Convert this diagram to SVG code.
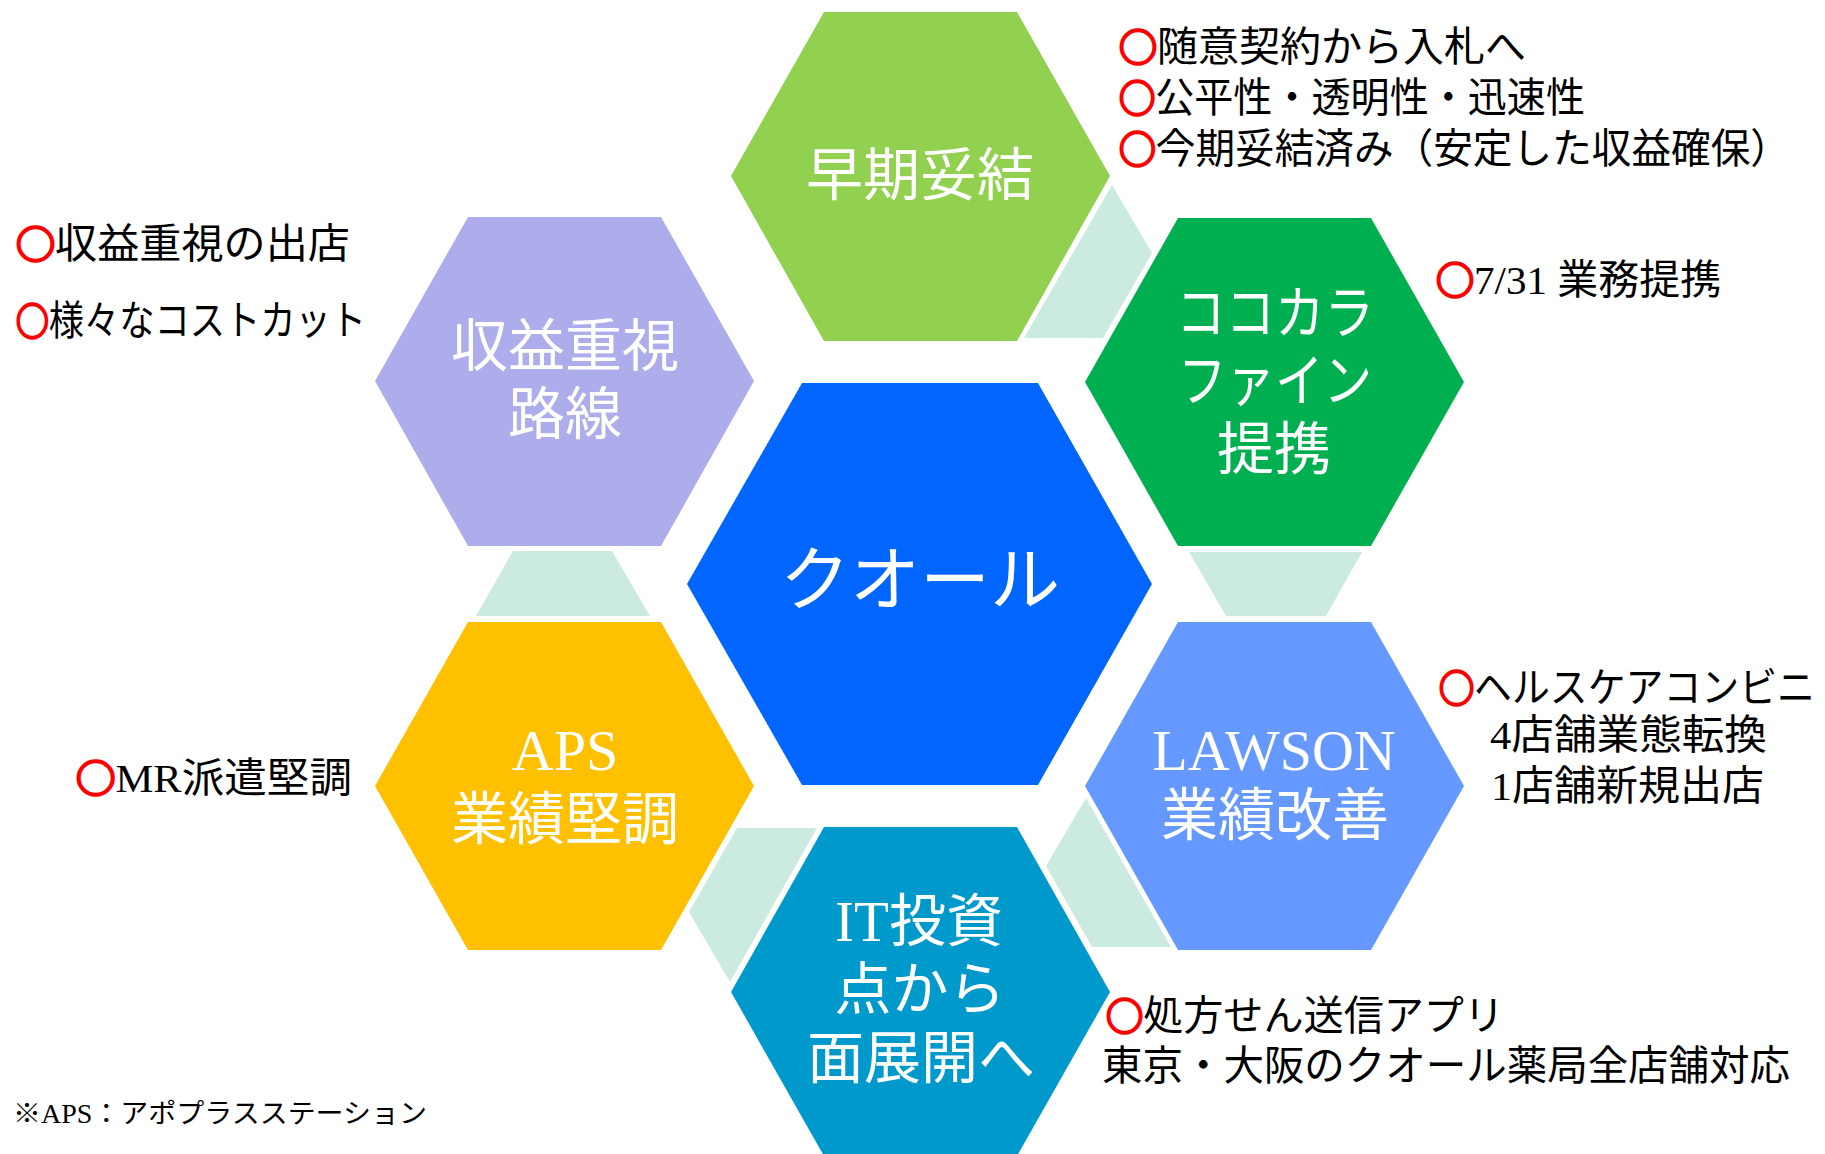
<svg xmlns="http://www.w3.org/2000/svg" width="1825" height="1154" viewBox="0 0 1825 1154">
<style>
.lbl{font-family:"Noto Sans CJK JP","Noto Sans",sans-serif;font-size:57px;fill:#fff;text-anchor:middle}
.lbs{font-family:"Noto Sans CJK JP","Noto Sans",sans-serif;font-size:57px;fill:#fff}
.ser{font-family:"Liberation Serif",serif}
.ann{font-family:"Noto Sans CJK JP","Noto Sans",sans-serif;font-size:41px;fill:#000}
.red{fill:#FF0000;stroke:#FF0000;stroke-width:2.6px;font-size:38px}
.con{fill:#CCEBE0}
</style>
<rect width="1825" height="1154" fill="#fff"/>
<g id="connectors">
<polygon class="con" points="1112,185 1152,253 1103,338 1024,338"/>
<polygon class="con" points="1189,552 1362,552 1326,616 1226,616"/>
<polygon class="con" points="1086,798 1171,947 1092,947 1046,866"/>
<polygon class="con" points="737,828 817,828 730,982 689,912"/>
<polygon class="con" points="513,551 612,551 650,616 476,616"/>
</g>
<g id="node-soki">
<polygon fill="#92D050" points="731,176 824,12 1017,12 1110,176 1017,341 824,341"/>
<text class="lbl" x="920" y="195">早期妥結</text>
</g>
<g id="node-shueki">
<polygon fill="#ADADEB" points="375,381 468,217 661,217 754,381 661,546 468,546"/>
<text class="lbl" x="565" y="366">収益重視</text>
<text class="lbl" x="565" y="434">路線</text>
</g>
<g id="node-cocokara">
<polygon fill="#00B050" points="1085,382 1178,218 1371,218 1464,382 1371,546 1178,546"/>
<text class="lbs" x="1176" y="333" textLength="198" lengthAdjust="spacingAndGlyphs">ココカラ</text>
<text class="lbs" x="1178" y="401" textLength="194" lengthAdjust="spacingAndGlyphs">ファイン</text>
<text class="lbl" x="1274" y="469">提携</text>
</g>
<g id="node-qol">
<polygon fill="#0066FF" points="687,584 802,383 1038,383 1152,584 1038,785 802,785"/>
<text class="lbl" x="920" y="605" style="font-size:70px">クオール</text>
</g>
<g id="node-aps">
<polygon fill="#FFC000" points="375,786 468,622 661,622 754,786 661,950 468,950"/>
<text class="lbl ser" x="565" y="770" style="font-size:58px">APS</text>
<text class="lbl" x="565" y="839">業績堅調</text>
</g>
<g id="node-lawson">
<polygon fill="#6699FF" points="1085,786 1178,622 1371,622 1464,786 1371,950 1178,950"/>
<text class="lbl ser" x="1274" y="770" style="font-size:58px">LAWSON</text>
<text class="lbl" x="1275" y="835">業績改善</text>
</g>
<g id="node-it">
<polygon fill="#0099CC" points="731,992 824,827 1017,827 1110,992 1017,1156 824,1156"/>
<text class="lbl" x="919" y="941"><tspan class="ser">IT</tspan>投資</text>
<text class="lbl" x="920" y="1009">点から</text>
<text class="lbl" x="921" y="1078">面展開へ</text>
</g>
<g id="annotations">
<text class="ann" x="1119" y="61"><tspan class="red">○</tspan>随意契約から入札へ</text>
<text class="ann" x="1119" y="112" textLength="466" lengthAdjust="spacingAndGlyphs"><tspan class="red">○</tspan>公平性・透明性・迅速性</text>
<text class="ann" x="1119" y="163" textLength="671" lengthAdjust="spacingAndGlyphs"><tspan class="red">○</tspan>今期妥結済み（安定した収益確保）</text>
<text class="ann" x="1436" y="294"><tspan class="red">○</tspan><tspan class="ser">7/31 </tspan>業務提携</text>
<text class="ann" x="16" y="258" textLength="334" lengthAdjust="spacingAndGlyphs"><tspan class="red">○</tspan>収益重視の出店</text>
<text class="ann" x="16" y="335" textLength="350" lengthAdjust="spacingAndGlyphs"><tspan class="red">○</tspan>様々なコストカット</text>
<text class="ann" x="76" y="792" textLength="276" lengthAdjust="spacingAndGlyphs"><tspan class="red">○</tspan><tspan class="ser">MR</tspan>派遣堅調</text>
<text class="ann" x="1439" y="702" textLength="376" lengthAdjust="spacingAndGlyphs"><tspan class="red">○</tspan>ヘルスケアコンビニ</text>
<text class="ann" x="1490" y="749" textLength="277" lengthAdjust="spacingAndGlyphs"><tspan class="ser">4</tspan>店舗業態転換</text>
<text class="ann" x="1491" y="800" textLength="273" lengthAdjust="spacingAndGlyphs"><tspan class="ser">1</tspan>店舗新規出店</text>
<text class="ann" x="1106" y="1030" textLength="398" lengthAdjust="spacingAndGlyphs"><tspan class="red">○</tspan>処方せん送信アプリ</text>
<text class="ann" x="1102" y="1080" textLength="688" lengthAdjust="spacingAndGlyphs">東京・大阪のクオール薬局全店舗対応</text>
<text class="ann" x="13" y="1123" style="font-size:27px" textLength="414" lengthAdjust="spacingAndGlyphs">※<tspan class="ser">APS</tspan>：アポプラスステーション</text>
</g>
</svg>
